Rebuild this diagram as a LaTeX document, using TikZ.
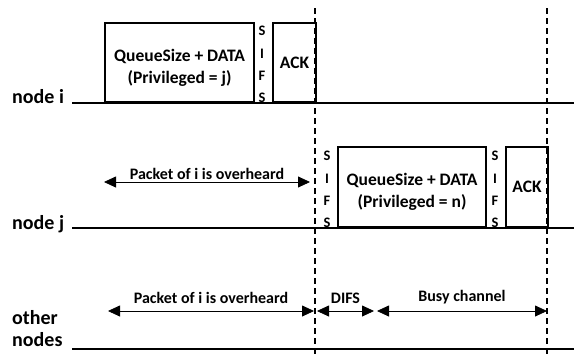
\documentclass[tikz,border=0pt]{standalone}
\usepackage{fontspec}
\setmainfont{Carlito}
\usetikzlibrary{arrows.meta,positioning}

\tikzset{
    slot/.style={draw, line width=2.2pt, anchor=south west, inner sep=0pt},
    slottext/.style={inner sep=0pt, align=center,
                 font=\bfseries\fontsize{17.5}{22}\selectfont},
    sifs/.style={anchor=south, inner sep=0pt, align=center,
                 font=\bfseries\fontsize{14.5}{22.3}\selectfont},
    axis/.style={line width=2.2pt},
    border/.style={line width=1.4pt, dash pattern=on 6pt off 4pt},
    span/.style={line width=0.8pt, {Triangle[length=12pt,width=11pt]}-{Triangle[length=12pt,width=11pt]}},
    lab/.style={anchor=base west, align=left, inner sep=0pt,
                font=\bfseries\fontsize{20}{22}\selectfont},
    tag/.style={inner sep=0pt, font=\bfseries\fontsize{16}{18}\selectfont}
}

\begin{document}
\begin{tikzpicture}[x=1pt, y=-1pt]

    % the frame
    \useasboundingbox (0,0) rectangle (574,354);

    % time lines
    \node[lab] (labi) at (12,103) {node i};
    \node[lab] (labj) at (12,229) {node j};
    \node[lab] (labo) at (12,346) {other\\nodes};
    \foreach \n/\y in {i/103, j/228, o/349} {
        \coordinate (\n0) at (72,\y);
        \coordinate (\n1) at (574,\y);
        \draw[axis] (\n0) -- (\n1);
    }

    % node i sends
    \node[slot, minimum width=149pt, minimum height=79pt] (datai) at (104,103) {};
    \node[slottext] (datait) at ([yshift=-5pt]datai.center) {QueueSize + DATA\\(Privileged = j)};
    \node[sifs] (sifsi) at (262,103) {S\\I\\F\\S};
    \node[slot, minimum width=43pt, minimum height=79pt] (acki) at (272,103) {};
    \node[slottext] (ackit) at (acki.center) {ACK};

    % node j sends
    \node[sifs] (sifsj) at (327,228) {S\\I\\F\\S};
    \node[slot, minimum width=148pt, minimum height=80pt] (dataj) at (337,228) {};
    \node[slottext] (datajt) at ([yshift=-5pt]dataj.center) {QueueSize + DATA\\(Privileged = n)};
    \node[sifs] (sifsk) at (495,228) {S\\I\\F\\S};
    \node[slot, minimum width=42pt, minimum height=80pt] (ackj) at (505,228) {};
    \node[slottext] (ackjt) at (ackj.center) {ACK};

    % borders
    \foreach \n/\x in {l/315, r/547} {
        \coordinate (\n top) at (\x,8);
        \coordinate (\n bot) at (\x,354);
        \draw[border] (\n top) -- (\n bot);
    }

    % spans
    \coordinate (hj0) at (104,182);
    \coordinate (hj1) at (310,182);
    \draw[span] (hj0) -- node[tag, above=2pt] (hearj) {Packet of i is overheard} (hj1);

    \coordinate (ho0) at (108,311);
    \coordinate (ho1) at (314,311);
    \coordinate (di0) at (317,311);
    \coordinate (di1) at (374,311);
    \coordinate (bu0) at (377,311);
    \coordinate (bu1) at (547,311);
    \draw[span] (ho0) -- node[tag, above=7pt] (hearo) {Packet of i is overheard} (ho1);
    \draw[span] (di0) -- node[tag, above=7pt] (difs) {DIFS} (di1);
    \draw[span] (bu0) -- node[tag, above=7pt] (busy) {Busy channel} (bu1);

\end{tikzpicture}
\end{document}
